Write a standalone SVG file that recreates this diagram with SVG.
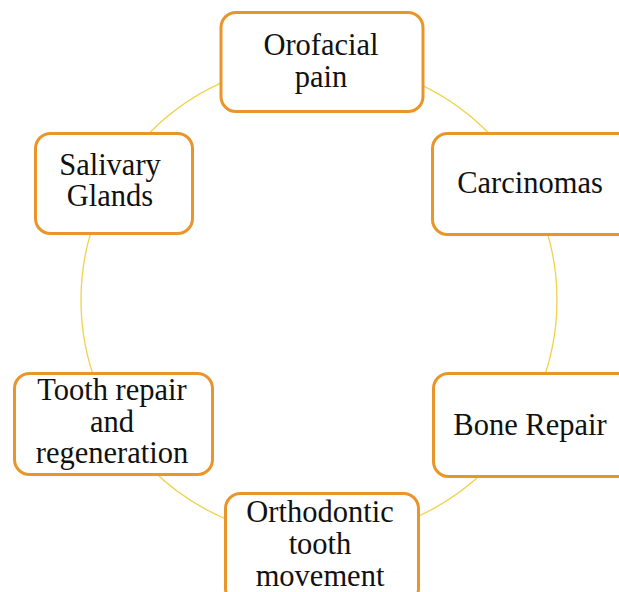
<svg xmlns="http://www.w3.org/2000/svg" width="619" height="592" viewBox="0 0 619 592">
<style>
.box{fill:#fff;stroke:#E9952A;stroke-width:3}
.t{font-family:"Liberation Serif","Times New Roman",serif;font-size:30.5px;fill:#111;text-anchor:middle}
</style>
<rect width="619" height="592" fill="#fff"/>
<g id="connectors">
<circle cx="319" cy="300" r="238" fill="none" stroke="#F0D24A" stroke-width="1.3"/>
</g>
<g id="orofacial">
<rect class="box" x="221" y="12.5" width="202" height="99" rx="15"/>
<text class="t" x="321" y="55">Orofacial</text>
<text class="t" x="321" y="87">pain</text>
</g>
<g id="carcinomas">
<rect class="box" x="432.5" y="133.5" width="200" height="101" rx="15"/>
<text class="t" x="530" y="193">Carcinomas</text>
</g>
<g id="bone">
<rect class="box" x="433.5" y="373.5" width="200" height="103" rx="15"/>
<text class="t" x="530" y="435">Bone Repair</text>
</g>
<g id="orthodontic">
<rect class="box" x="225.5" y="493.5" width="193" height="110" rx="15"/>
<text class="t" x="320" y="522">Orthodontic</text>
<text class="t" x="320" y="554">tooth</text>
<text class="t" x="320" y="586">movement</text>
</g>
<g id="tooth">
<rect class="box" x="14.5" y="373.5" width="198" height="101" rx="15"/>
<text class="t" x="112" y="400">Tooth repair</text>
<text class="t" x="112" y="431.5">and</text>
<text class="t" x="112" y="463">regeneration</text>
</g>
<g id="salivary">
<rect class="box" x="35.5" y="133.5" width="157" height="100" rx="15"/>
<text class="t" x="110" y="175">Salivary</text>
<text class="t" x="110" y="206">Glands</text>
</g>
</svg>
